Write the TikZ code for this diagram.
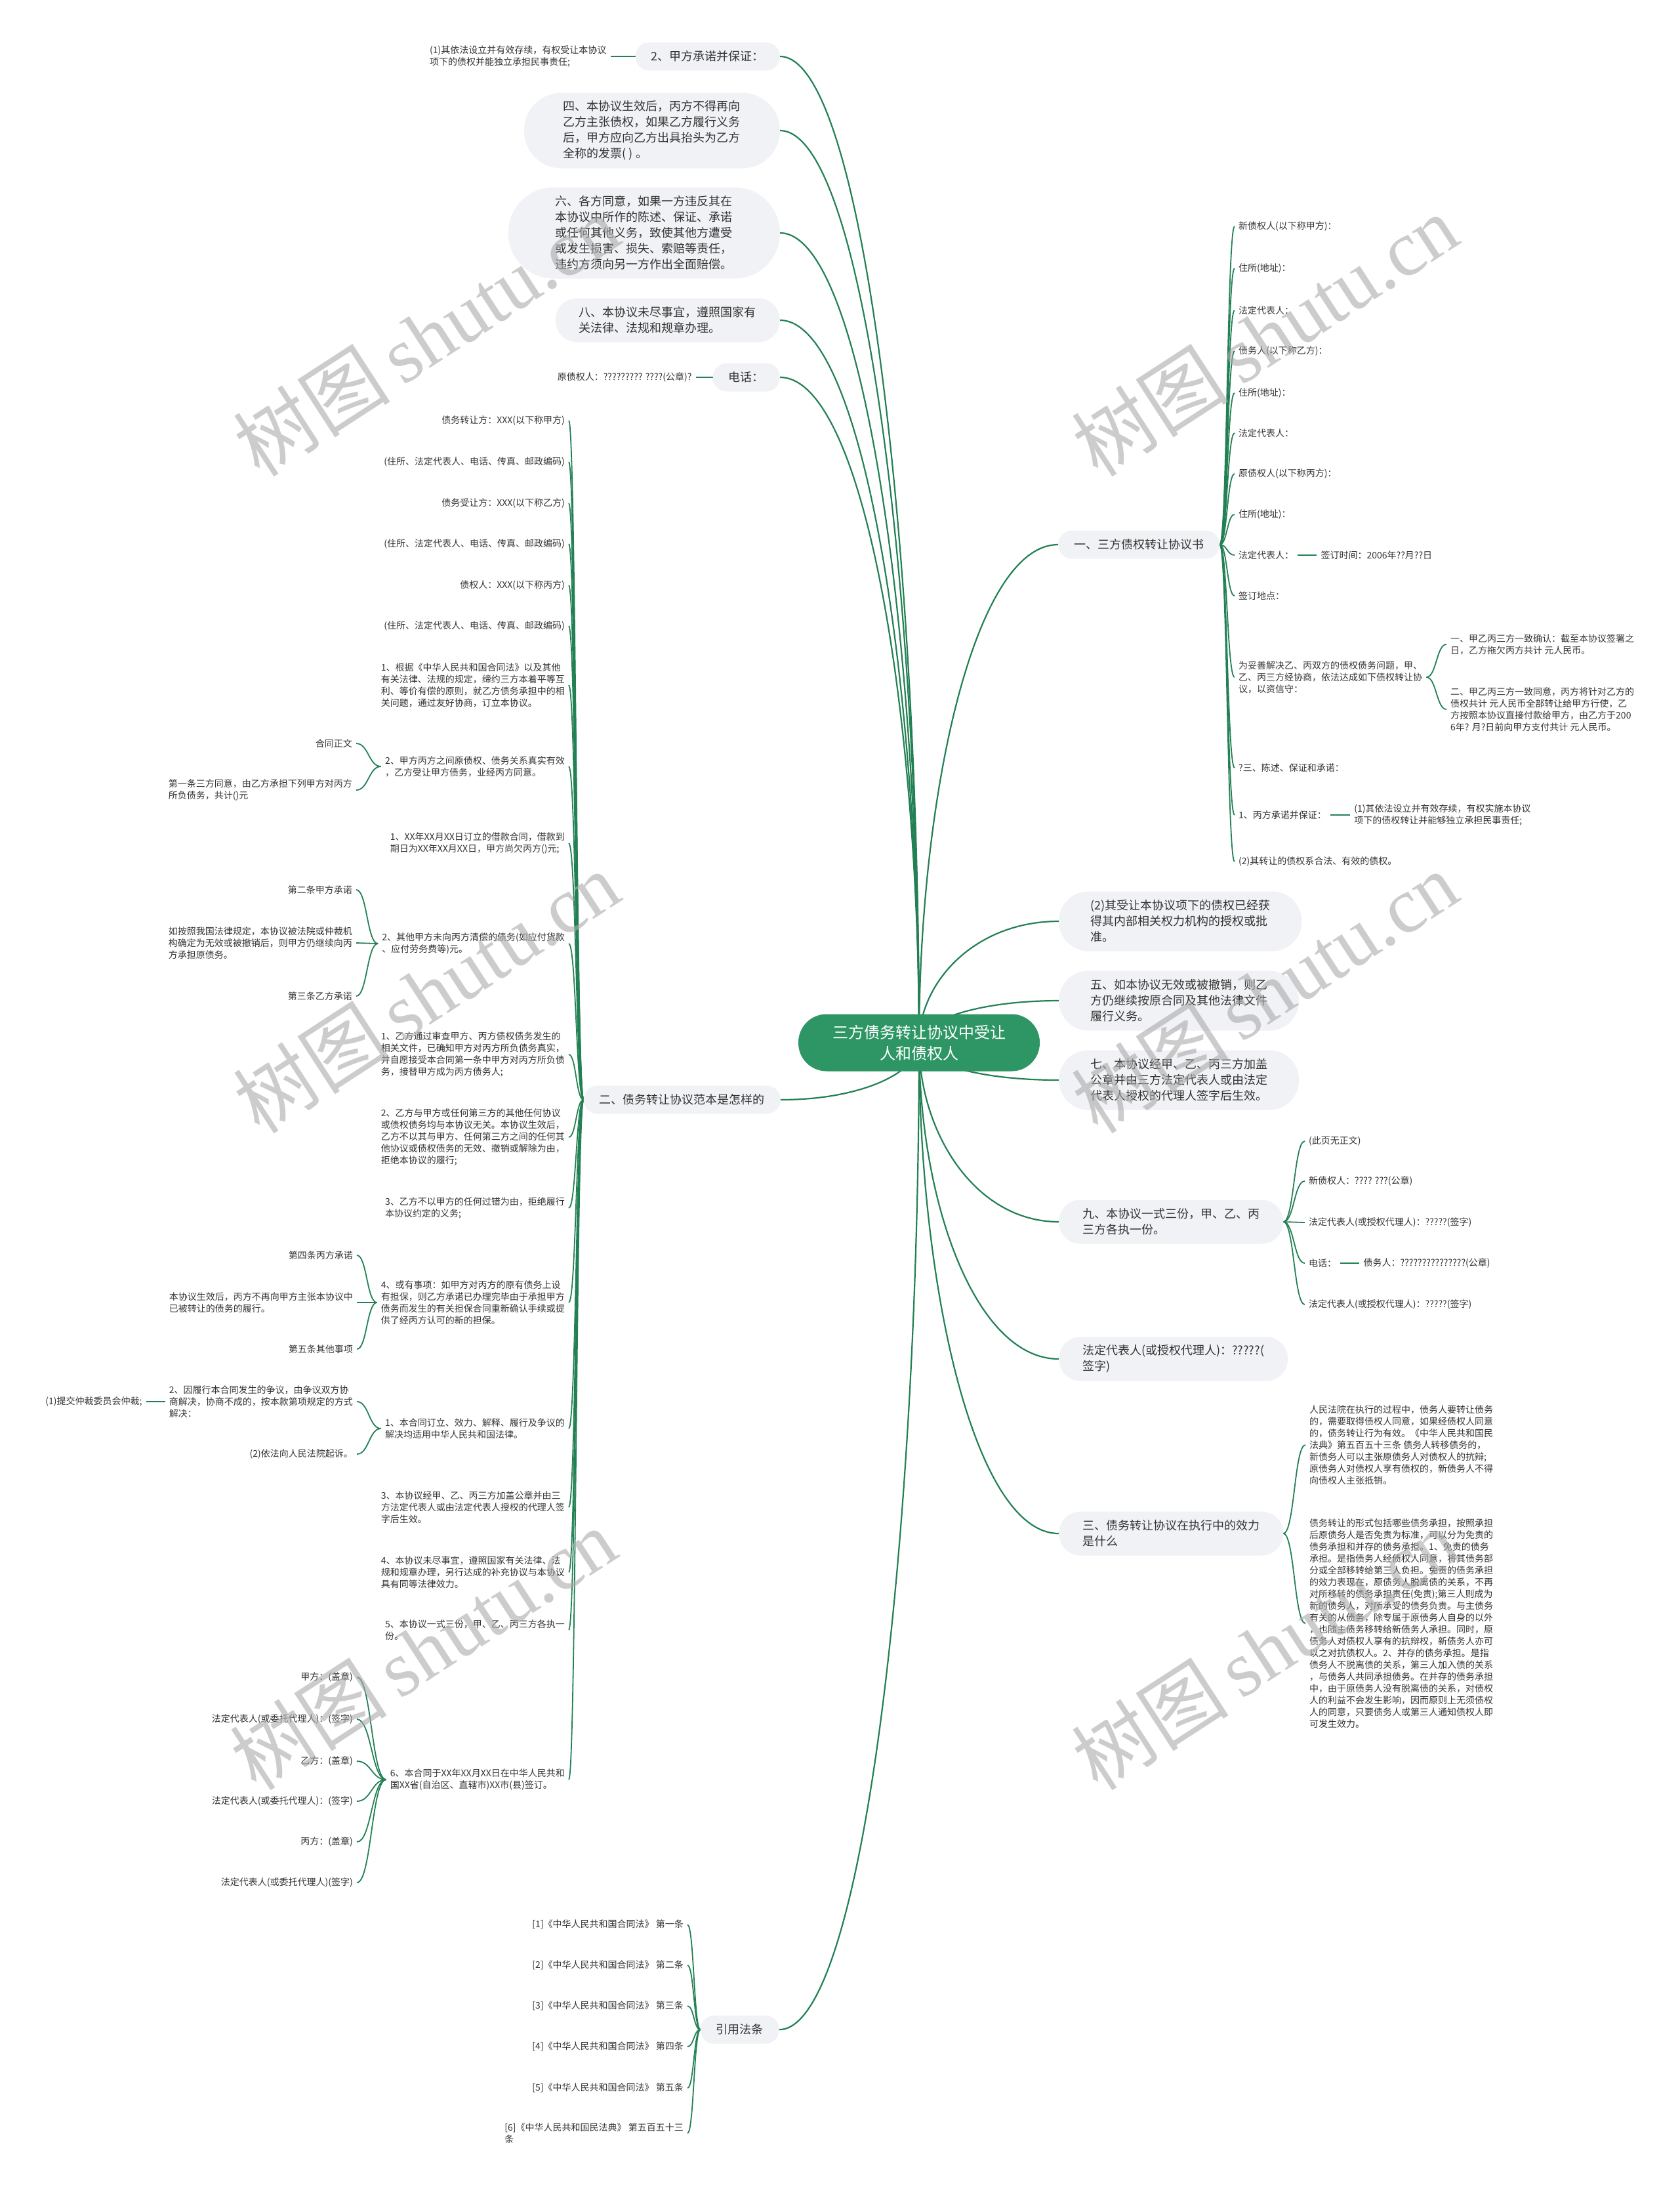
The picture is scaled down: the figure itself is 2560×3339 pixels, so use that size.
\documentclass[tikz,border=0pt]{standalone}
\usepackage{fontspec}
\setmainfont{Noto Sans CJK SC}
\newfontfamily\wmserif{Liberation Serif}
\usepackage{tikz}
\usetikzlibrary{positioning, calc, backgrounds}
\definecolor{rootgreen}{RGB}{46,150,100}
\definecolor{linegreen}{RGB}{34,128,84}
\definecolor{bubblebg}{RGB}{240,242,245}
\definecolor{inktext}{RGB}{51,51,51}
\definecolor{wmgray}{RGB}{170,170,170}
\tikzset{
  root/.style={
    rectangle, rounded corners=43pt, minimum height=87pt, fill=rootgreen, text=white,
    inner xsep=52pt, inner ysep=3pt, align=center, font=\fontsize{24}{32}\selectfont
  },
  topic/.style={
    rectangle, rounded corners=#1pt, minimum height=2*#1pt+1pt, fill=bubblebg, text=inktext,
    inner xsep=#1pt+3pt, inner ysep=3pt, align=left, font=\fontsize{18}{24}\selectfont
  },
  leaf/.style={text=inktext, inner xsep=6pt, inner ysep=3pt, align=left, font=\fontsize{14}{18}\selectfont},
  rootlink/.style={draw=linegreen, line width=2.2pt,
    to path={.. controls ($(\tikztostart)!0.5!(\tikztostart|-\tikztotarget)$)
      and ($(\tikztotarget)!0.6!(\tikztostart|-\tikztotarget)$) .. (\tikztotarget)}},
  sublink/.style={draw=linegreen, line width=1.8pt,
    to path={.. controls ($(\tikztostart)!0.5!(\tikztostart-|\tikztotarget)$)
      and ($(\tikztotarget)!0.5!(\tikztotarget-|\tikztostart)$) .. (\tikztotarget)}},
  watermark/.style={text=wmgray, opacity=0.6, rotate=33, font=\fontsize{120}{120}\selectfont},
}

\begin{document}
\begin{tikzpicture}[x=1pt, y=-1pt]
  \useasboundingbox (0,0) rectangle (2560,3339);

  \node[root] (root) at (1401,1589) {三方债务转让协议中受让\\人和债权人};

  % left side
  \node[topic=21, anchor=east] (jiapromise) at (1189,86) {2、甲方承诺并保证：};
  \node[leaf, left=38pt of jiapromise] (jiapromise1) {(1)其依法设立并有效存续，有权受让本协议\\项下的债权并能独立承担民事责任;};
  \node[topic=57, anchor=east] (art4) at (1189,199) {四、本协议生效后，丙方不得再向\\乙方主张债权，如果乙方履行义务\\后，甲方应向乙方出具抬头为乙方\\全称的发票( ) 。};
  \node[topic=69, anchor=east] (art6) at (1189,355) {六、各方同意，如果一方违反其在\\本协议中所作的陈述、保证、承诺\\或任何其他义务，致使其他方遭受\\或发生损害、损失、索赔等责任，\\违约方须向另一方作出全面赔偿。};
  \node[topic=33, anchor=east] (art8) at (1189,488) {八、本协议未尽事宜，遵照国家有\\关法律、法规和规章办理。};
  \node[topic=21, anchor=east] (phoneL) at (1189,575) {电话：};
  \node[leaf, left=26pt of phoneL] (phoneL1) {原债权人：????????? ????(公章)?};
  \node[topic=21, anchor=east] (sample) at (1190,1676) {二、债务转让协议范本是怎样的};
  \node[topic=21, anchor=east] (cite) at (1188,3093) {引用法条};

  \node[leaf, anchor=east] (s1) at (867,641) {债务转让方：XXX(以下称甲方)};
  \node[leaf, anchor=east] (s2) at (867,704) {(住所、法定代表人、电话、传真、邮政编码)};
  \node[leaf, anchor=east] (s3) at (867,767) {债务受让方：XXX(以下称乙方)};
  \node[leaf, anchor=east] (s4) at (867,829) {(住所、法定代表人、电话、传真、邮政编码)};
  \node[leaf, anchor=east] (s5) at (867,892) {债权人：XXX(以下称丙方)};
  \node[leaf, anchor=east] (s6) at (867,954) {(住所、法定代表人、电话、传真、邮政编码)};
  \node[leaf, anchor=east] (s7) at (867,1044) {1、根据《中华人民共和国合同法》以及其他\\有关法律、法规的规定，缔约三方本着平等互\\利、等价有偿的原则，就乙方债务承担中的相\\关问题，通过友好协商，订立本协议。};
  \node[leaf, anchor=east] (s8) at (867,1168) {2、甲方丙方之间原债权、债务关系真实有效\\，乙方受让甲方债务，业经丙方同意。};
  \node[leaf, anchor=east] (s8a) at (543,1133) {合同正文};
  \node[leaf, anchor=east] (s8b) at (543,1204) {第一条三方同意，由乙方承担下列甲方对丙方\\所负债务，共计()元};
  \node[leaf, anchor=east] (s9) at (867,1285) {1、XX年XX月XX日订立的借款合同，借款到\\期日为XX年XX月XX日，甲方尚欠丙方()元;};
  \node[leaf, anchor=east] (s10) at (867,1438) {2、其他甲方未向丙方清偿的债务(如应付货款\\、应付劳务费等)元。};
  \node[leaf, anchor=east] (s10a) at (543,1356) {第二条甲方承诺};
  \node[leaf, anchor=east] (s10b) at (543,1437) {如按照我国法律规定，本协议被法院或仲裁机\\构确定为无效或被撤销后，则甲方仍继续向丙\\方承担原债务。};
  \node[leaf, anchor=east] (s10c) at (543,1518) {第三条乙方承诺};
  \node[leaf, anchor=east] (s11) at (867,1607) {1、乙方通过审查甲方、丙方债权债务发生的\\相关文件，已确知甲方对丙方所负债务真实，\\并自愿接受本合同第一条中甲方对丙方所负债\\务，接替甲方成为丙方债务人;};
  \node[leaf, anchor=east] (s12) at (867,1733) {2、乙方与甲方或任何第三方的其他任何协议\\或债权债务均与本协议无关。本协议生效后，\\乙方不以其与甲方、任何第三方之间的任何其\\他协议或债权债务的无效、撤销或解除为由，\\拒绝本协议的履行;};
  \node[leaf, anchor=east] (s13) at (867,1841) {3、乙方不以甲方的任何过错为由，拒绝履行\\本协议约定的义务;};
  \node[leaf, anchor=east] (s14) at (867,1985) {4、或有事项：如甲方对丙方的原有债务上设\\有担保，则乙方承诺已办理完毕由于承担甲方\\债务而发生的有关担保合同重新确认手续或提\\供了经丙方认可的新的担保。};
  \node[leaf, anchor=east] (s14a) at (544,1913) {第四条丙方承诺};
  \node[leaf, anchor=east] (s14b) at (544,1985) {本协议生效后，丙方不再向甲方主张本协议中\\已被转让的债务的履行。};
  \node[leaf, anchor=east] (s14c) at (544,2056) {第五条其他事项};
  \node[leaf, anchor=east] (s15) at (867,2177) {1、本合同订立、效力、解释、履行及争议的\\解决均适用中华人民共和国法律。};
  \node[leaf, anchor=east] (s15a) at (544,2136) {2、因履行本合同发生的争议，由争议双方协\\商解决，协商不成的，按本款第项规定的方式\\解决：};
  \node[leaf, left=29pt of s15a] (s15a1) {(1)提交仲裁委员会仲裁;};
  \node[leaf, anchor=east] (s15b) at (544,2216) {(2)依法向人民法院起诉。};
  \node[leaf, anchor=east] (s16) at (867,2297) {3、本协议经甲、乙、丙三方加盖公章并由三\\方法定代表人或由法定代表人授权的代理人签\\字后生效。};
  \node[leaf, anchor=east] (s17) at (867,2396) {4、本协议未尽事宜，遵照国家有关法律、法\\规和规章办理，另行达成的补充协议与本协议\\具有同等法律效力。};
  \node[leaf, anchor=east] (s18) at (867,2484) {5、本协议一式三份，甲、乙、丙三方各执一\\份。};
  \node[leaf, anchor=east] (s19) at (867,2712) {6、本合同于XX年XX月XX日在中华人民共和\\国XX省(自治区、直辖市)XX市(县)签订。};
  \node[leaf, anchor=east] (s19a) at (544,2556) {甲方：(盖章)};
  \node[leaf, anchor=east] (s19b) at (544,2620) {法定代表人(或委托代理人)：(签字)};
  \node[leaf, anchor=east] (s19c) at (544,2684) {乙方：(盖章)};
  \node[leaf, anchor=east] (s19d) at (544,2745) {法定代表人(或委托代理人)：(签字)};
  \node[leaf, anchor=east] (s19e) at (544,2807) {丙方：(盖章)};
  \node[leaf, anchor=east] (s19f) at (544,2869) {法定代表人(或委托代理人)(签字)};

  \node[leaf, anchor=east] (cite1) at (1048,2933) {[1]《中华人民共和国合同法》 第一条};
  \node[leaf, anchor=east] (cite2) at (1048,2995) {[2]《中华人民共和国合同法》 第二条};
  \node[leaf, anchor=east] (cite3) at (1048,3057) {[3]《中华人民共和国合同法》 第三条};
  \node[leaf, anchor=east] (cite4) at (1048,3119) {[4]《中华人民共和国合同法》 第四条};
  \node[leaf, anchor=east] (cite5) at (1048,3182) {[5]《中华人民共和国合同法》 第五条};
  \node[leaf, anchor=east] (cite6) at (1048,3251) {[6]《中华人民共和国民法典》 第五百五十三\\条};

  % right side
  \node[topic=21, anchor=west] (one) at (1613,830) {一、三方债权转让协议书};
  \node[leaf, anchor=west] (one1) at (1882,345) {新债权人(以下称甲方)：};
  \node[leaf, anchor=west] (one2) at (1882,409) {住所(地址)：};
  \node[leaf, anchor=west] (one3) at (1882,473) {法定代表人：};
  \node[leaf, anchor=west] (one4) at (1882,535) {债务人(以下称乙方)：};
  \node[leaf, anchor=west] (one5) at (1882,599) {住所(地址)：};
  \node[leaf, anchor=west] (one6) at (1882,660) {法定代表人：};
  \node[leaf, anchor=west] (one7) at (1882,722) {原债权人(以下称丙方)：};
  \node[leaf, anchor=west] (one8) at (1882,784) {住所(地址)：};
  \node[leaf, anchor=west] (one9) at (1882,846) {法定代表人：};
  \node[leaf, right=29pt of one9] (one9a) {签订时间：2006年??月??日};
  \node[leaf, anchor=west] (one10) at (1882,908) {签订地点：};
  \node[leaf, anchor=west] (one11) at (1882,1032) {为妥善解决乙、丙双方的债权债务问题，甲、\\乙、丙三方经协商，依法达成如下债权转让协\\议，以资信守：};
  \node[leaf, anchor=west] (one11a) at (2205,982) {一、甲乙丙三方一致确认：截至本协议签署之\\日，乙方拖欠丙方共计 元人民币。};
  \node[leaf, anchor=west] (one11b) at (2205,1081) {二、甲乙丙三方一致同意，丙方将针对乙方的\\债权共计 元人民币全部转让给甲方行使，乙\\方按照本协议直接付款给甲方，由乙方于200\\6年? 月?日前向甲方支付共计 元人民币。};
  \node[leaf, anchor=west] (one12) at (1882,1170) {?三、陈述、保证和承诺：};
  \node[leaf, anchor=west] (one13) at (1882,1242) {1、丙方承诺并保证：};
  \node[leaf, right=30pt of one13] (one13a) {(1)其依法设立并有效存续，有权实施本协议\\项下的债权转让并能够独立承担民事责任;};
  \node[leaf, anchor=west] (one14) at (1882,1313) {(2)其转让的债权系合法、有效的债权。};

  \node[topic=45, anchor=west] (r2) at (1614,1404) {(2)其受让本协议项下的债权已经获\\得其内部相关权力机构的授权或批\\准。};
  \node[topic=45, anchor=west] (r5) at (1614,1525) {五、如本协议无效或被撤销，则乙\\方仍继续按原合同及其他法律文件\\履行义务。};
  \node[topic=45, anchor=west] (r7) at (1614,1646) {七、本协议经甲、乙、丙三方加盖\\公章并由三方法定代表人或由法定\\代表人授权的代理人签字后生效。};
  \node[topic=33, anchor=west] (r9) at (1614,1862) {九、本协议一式三份，甲、乙、丙\\三方各执一份。};
  \node[leaf, anchor=west] (r9a) at (1989,1739) {(此页无正文)};
  \node[leaf, anchor=west] (r9b) at (1989,1800) {新债权人：???? ???(公章)};
  \node[leaf, anchor=west] (r9c) at (1989,1863) {法定代表人(或授权代理人)：?????(签字)};
  \node[leaf, anchor=west] (r9d) at (1989,1925) {电话：};
  \node[leaf, right=29pt of r9d] (r9d1) {债务人：???????????????(公章)};
  \node[leaf, anchor=west] (r9e) at (1989,1988) {法定代表人(或授权代理人)：?????(签字)};
  \node[topic=33, anchor=west] (rrep) at (1614,2071) {法定代表人(或授权代理人)：?????(\\签字)};
  \node[topic=33, anchor=west] (r3) at (1614,2337) {三、债务转让协议在执行中的效力\\是什么};
  \node[leaf, anchor=west] (r3a) at (1990,2202) {人民法院在执行的过程中，债务人要转让债务\\的，需要取得债权人同意，如果经债权人同意\\的，债务转让行为有效。《中华人民共和国民\\法典》第五百五十三条 债务人转移债务的，\\新债务人可以主张原债务人对债权人的抗辩;\\原债务人对债权人享有债权的，新债务人不得\\向债权人主张抵销。};
  \node[leaf, anchor=west] (r3b) at (1990,2474) {债务转让的形式包括哪些债务承担，按照承担\\后原债务人是否免责为标准，可以分为免责的\\债务承担和并存的债务承担。1、免责的债务\\承担。是指债务人经债权人同意，将其债务部\\分或全部移转给第三人负担。免责的债务承担\\的效力表现在，原债务人脱离债的关系，不再\\对所移转的债务承担责任(免责);第三人则成为\\新的债务人，对所承受的债务负责。与主债务\\有关的从债务，除专属于原债务人自身的以外\\，也随主债务移转给新债务人承担。同时，原\\债务人对债权人享有的抗辩权，新债务人亦可\\以之对抗债权人。2、并存的债务承担。是指\\债务人不脱离债的关系，第三人加入债的关系\\，与债务人共同承担债务。在并存的债务承担\\中，由于原债务人没有脱离债的关系，对债权\\人的利益不会发生影响，因而原则上无须债权\\人的同意，只要债务人或第三人通知债权人即\\可发生效力。};

  \begin{scope}[on background layer]
    \fill[white] (0,0) rectangle (2560,3339);
    \path (root.center) edge[rootlink] (jiapromise.east) edge[rootlink] (art4.east)
          edge[rootlink] (art6.east) edge[rootlink] (art8.east) edge[rootlink] (phoneL.east)
          edge[rootlink] (sample.east) edge[rootlink] (cite.east);
    \path (root.center) edge[rootlink] (one.west) edge[rootlink] (r2.west)
          edge[rootlink] (r5.west) edge[rootlink] (r7.west) edge[rootlink] (r9.west)
          edge[rootlink] (rrep.west) edge[rootlink] (r3.west);
    \path (jiapromise.west) edge[sublink] (jiapromise1.east)
          (phoneL.west) edge[sublink] (phoneL1.east);
    \path (sample.west) edge[sublink] (s1.east) edge[sublink] (s2.east) edge[sublink] (s3.east)
          edge[sublink] (s4.east) edge[sublink] (s5.east) edge[sublink] (s6.east)
          edge[sublink] (s7.east) edge[sublink] (s8.east) edge[sublink] (s9.east)
          edge[sublink] (s10.east) edge[sublink] (s11.east) edge[sublink] (s12.east)
          edge[sublink] (s13.east) edge[sublink] (s14.east) edge[sublink] (s15.east)
          edge[sublink] (s16.east) edge[sublink] (s17.east) edge[sublink] (s18.east)
          edge[sublink] (s19.east);
    \path (s8.west) edge[sublink] (s8a.east) edge[sublink] (s8b.east)
          (s10.west) edge[sublink] (s10a.east) edge[sublink] (s10b.east) edge[sublink] (s10c.east)
          (s14.west) edge[sublink] (s14a.east) edge[sublink] (s14b.east) edge[sublink] (s14c.east)
          (s15.west) edge[sublink] (s15a.east) edge[sublink] (s15b.east)
          (s15a.west) edge[sublink] (s15a1.east)
          (s19.west) edge[sublink] (s19a.east) edge[sublink] (s19b.east) edge[sublink] (s19c.east)
          edge[sublink] (s19d.east) edge[sublink] (s19e.east) edge[sublink] (s19f.east);
    \path (cite.west) edge[sublink] (cite1.east) edge[sublink] (cite2.east) edge[sublink] (cite3.east)
          edge[sublink] (cite4.east) edge[sublink] (cite5.east) edge[sublink] (cite6.east);
    \path (one.east) edge[sublink] (one1.west) edge[sublink] (one2.west) edge[sublink] (one3.west)
          edge[sublink] (one4.west) edge[sublink] (one5.west) edge[sublink] (one6.west)
          edge[sublink] (one7.west) edge[sublink] (one8.west) edge[sublink] (one9.west)
          edge[sublink] (one10.west) edge[sublink] (one11.west) edge[sublink] (one12.west)
          edge[sublink] (one13.west) edge[sublink] (one14.west);
    \path (one9.east) edge[sublink] (one9a.west)
          (one11.east) edge[sublink] (one11a.west) edge[sublink] (one11b.west)
          (one13.east) edge[sublink] (one13a.west);
    \path (r9.east) edge[sublink] (r9a.west) edge[sublink] (r9b.west) edge[sublink] (r9c.west)
          edge[sublink] (r9d.west) edge[sublink] (r9e.west)
          (r9d.east) edge[sublink] (r9d1.west)
          (r3.east) edge[sublink] (r3a.west) edge[sublink] (r3b.west);
  \end{scope}

  % watermarks
  \node[watermark] (wm1) at (650,511) {树图\hspace{20pt}{\wmserif shutu.cn}};
  \node[watermark] (wm2) at (1928,511) {树图\hspace{20pt}{\wmserif shutu.cn}};
  \node[watermark] (wm3) at (650,1512) {树图\hspace{20pt}{\wmserif shutu.cn}};
  \node[watermark] (wm4) at (1928,1512) {树图\hspace{20pt}{\wmserif shutu.cn}};
  \node[watermark] (wm5) at (645,2513) {树图\hspace{20pt}{\wmserif shutu.cn}};
  \node[watermark] (wm6) at (1928,2513) {树图\hspace{20pt}{\wmserif shutu.cn}};
\end{tikzpicture}
\end{document}
